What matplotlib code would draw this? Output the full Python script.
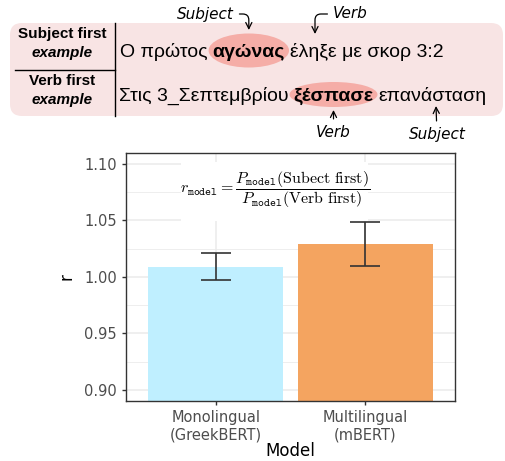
import numpy as np
import matplotlib
matplotlib.use("Agg")
import matplotlib.pyplot as plt
from matplotlib.patches import FancyBboxPatch, Ellipse, Rectangle
from matplotlib.ticker import MultipleLocator

# bar chart data
models = ["Monolingual\n(GreekBERT)", "Multilingual\n(mBERT)"]
r_values = [1.009, 1.029]
r_err = [0.012, 0.0195]
bar_colors = ["#BFEFFF", "#F4A460"]

# example sentences: (text, is_highlighted)
row_labels = ["Subject first", "Verb first"]
sentence_subj_first = [("Ο πρώτος", False), ("αγώνας", True), ("έληξε με σκορ 3:2", False)]
sentence_verb_first = [("Στις 3_Σεπτεμβρίου", False), ("ξέσπασε", True), ("επανάσταση", False)]

W, H = 505, 461
plt.rcParams["font.family"] = "DejaVu Sans"
plt.rcParams["mathtext.fontset"] = "cm"
fig = plt.figure(figsize=(W / 100, H / 100), dpi=100)

# ---------- top illustration, drawn in pixel coordinates ----------
top = fig.add_axes([0, 0, 1, 1])
top.set_xlim(0, W)
top.set_ylim(H, 0)
top.axis("off")

box = FancyBboxPatch((10, 23), 493, 93, boxstyle="round,pad=0,rounding_size=12",
                     facecolor="#F8E4E4", edgecolor="none", zorder=0)
top.add_patch(box)
top.plot([115, 115], [23, 116], color="black", lw=1.0, zorder=2)
top.plot([15, 115], [70, 70], color="black", lw=1.0, zorder=2)

label_font = "Liberation Sans"
for y0, lab in zip([34, 81], row_labels):
    top.text(62, y0, lab, ha="center", va="center", fontsize=11,
             fontweight="bold", family=label_font)
    top.text(62, y0 + 19, "example", ha="center", va="center", fontsize=11,
             fontweight="bold", fontstyle="italic", family=label_font)

fig.canvas.draw()
renderer = fig.canvas.get_renderer()
inv = top.transData.inverted()


def draw_sentence(pieces, x0, baseline, ell_h):
    x = x0
    spans = []
    for txt, hl in pieces:
        t = top.text(x, baseline, txt, ha="left", va="baseline", fontsize=14,
                     family=label_font, fontweight="bold" if hl else "normal", zorder=3)
        bb = t.get_window_extent(renderer)
        (xa, _), (xb, _) = inv.transform([[bb.x0, bb.y0], [bb.x1, bb.y1]])
        spans.append((xa, xb, hl))
        x = xb + 5
    for xa, xb, hl in spans:
        if hl:
            top.add_patch(Ellipse(((xa + xb) / 2, baseline - 6.5), xb - xa + 8, ell_h,
                                  facecolor="#F5ADA7", edgecolor="none", zorder=1))
    return spans


s1 = draw_sentence(sentence_subj_first, 120, 57, 34)
s2 = draw_sentence(sentence_verb_first, 119, 101, 25)

hand = dict(fontsize=11, family=["Liberation Sans Narrow", "DejaVu Sans"],
            fontstyle="italic", va="center")
arrow = dict(arrowstyle="->", color="black", lw=0.9, shrinkA=2, shrinkB=0)

subj_x = (s1[1][0] + s1[1][1]) / 2
top.annotate("Subject", xy=(subj_x, 30), xytext=(177, 14), ha="left", **hand,
             arrowprops=dict(connectionstyle="angle,angleA=0,angleB=90,rad=6", **arrow))
top.annotate("Verb", xy=(315, 34), xytext=(333, 14), ha="left", **hand,
             arrowprops=dict(connectionstyle="angle,angleA=180,angleB=90,rad=6", **arrow))
verb_x = (s2[1][0] + s2[1][1]) / 2
top.annotate("Verb", xy=(verb_x, 110), xytext=(verb_x, 132), ha="center", **hand,
             arrowprops=dict(connectionstyle="arc3", **arrow))
top.annotate("Subject", xy=(436, 106), xytext=(437, 134), ha="center", **hand,
             arrowprops=dict(connectionstyle="arc3", **arrow))

# ---------- bar chart ----------
ax = fig.add_axes([126 / W, 60 / H, 329 / W, 248 / H])
x = np.arange(1, len(models) + 1)
ax.bar(x, r_values, width=0.9, color=bar_colors, zorder=2)
ax.errorbar(x, r_values, yerr=r_err, fmt="none", ecolor="#333333", elinewidth=1.2,
            capsize=10.5, capthick=1.2, zorder=3)

ax.set_xlim(0.4, 2.6)
ax.set_ylim(0.8903, 1.1094)
ax.yaxis.set_minor_locator(MultipleLocator(0.025))
yt = np.arange(0.90, 1.101, 0.05)
ax.set_yticks(yt)
ax.set_yticklabels([f"{v:.2f}" for v in yt])
ax.set_xticks(x)
ax.set_xticklabels(models)

ax.grid(which="major", color="#EBEBEB", lw=1.1, zorder=0)
ax.grid(which="minor", axis="y", color="#EBEBEB", lw=0.6, zorder=0)
ax.set_axisbelow(True)
for sp in ax.spines.values():
    sp.set_color("#333333")
    sp.set_linewidth(1.0)
ax.tick_params(which="major", length=3, width=1, color="#333333", pad=3.5,
               labelsize=10.5, labelcolor="#4D4D4D")
ax.tick_params(which="minor", length=0)
ax.set_xlabel("Model", fontsize=12, labelpad=0)
ax.set_ylabel("r", fontsize=12, labelpad=6)

# white label box behind the ratio formula
ax.add_patch(Rectangle((0.767, 1.0497), 1.253, 0.0516, facecolor="white",
                       edgecolor="none", zorder=1))
ax.text(0.453, 0.851,
        r"$r_{\mathtt{model}} = \dfrac{P_{\mathtt{model}}(\mathrm{Subect\ first})}"
        r"{P_{\mathtt{model}}(\mathrm{Verb\ first})}$",
        transform=ax.transAxes, ha="center", va="center", fontsize=11.5, zorder=4)

fig.savefig("out.png", dpi=100)
